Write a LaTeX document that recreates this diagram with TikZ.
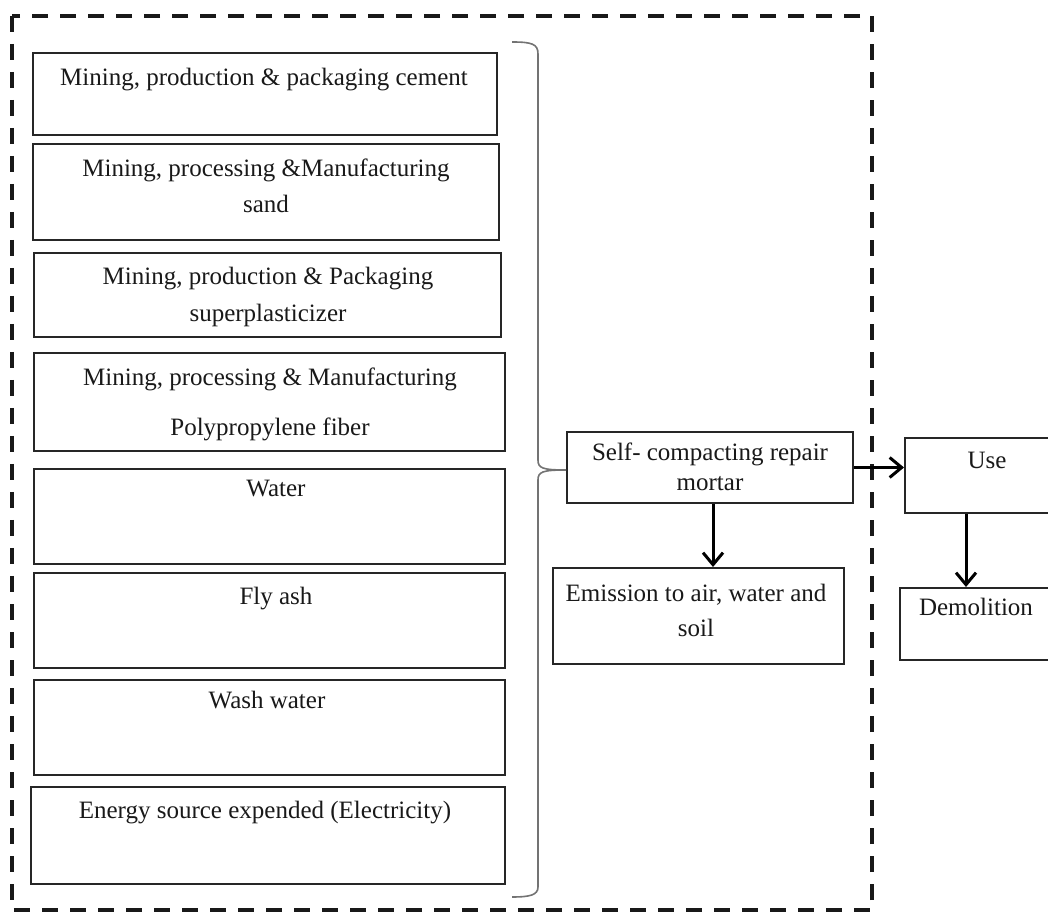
\documentclass[tikz,border=0pt]{standalone}
\usepackage{fontspec}
\setmainfont{Liberation Serif}
\usetikzlibrary{arrows.meta,calc}
\begin{document}
\begin{tikzpicture}[x=0.5pt,y=-0.5pt,
  box/.style={draw=black!85,line width=1pt,inner sep=0pt,rectangle},
  txt/.style={inner sep=0pt,anchor=base,font=\fontsize{12.5}{15}\selectfont,text=black!90},
  frame/.style={draw=black!90,line width=1.7pt,dash pattern=on 8pt off 6pt},
  brace/.style={draw=black!55,line width=0.8pt},
  flow/.style={draw=black,line width=1.5pt,-{Straight Barb[length=6pt,width=10pt,line width=1.5pt]}}]
\useasboundingbox (0,0) rectangle (1048,913);
\fill[white] (0,0) rectangle (1048,913);
% frame
\draw[frame] (12,16) rectangle (872,910);
% input boxes
\node[box,minimum width=232pt,minimum height=41pt] (b1) at (265,94) {};
\node[txt] (t1) at (264,86) {Mining, production \& packaging cement};
\node[box,minimum width=233pt,minimum height=48pt] (b2) at (266,192) {};
\node[txt] (t2a) at (266,177) {Mining, processing \&Manufacturing};
\node[txt] (t2b) at (266,213) {sand};
\node[box,minimum width=233.5pt,minimum height=42pt] (b3) at (267.5,295) {};
\node[txt] (t3a) at (268,285) {Mining, production \& Packaging};
\node[txt] (t3b) at (268,322) {superplasticizer};
\node[box,minimum width=235.5pt,minimum height=49pt] (b4) at (269.5,402) {};
\node[txt] (t4a) at (270,386) {Mining, processing \& Manufacturing};
\node[txt] (t4b) at (270,436) {Polypropylene fiber};
\node[box,minimum width=235.5pt,minimum height=47.5pt] (b5) at (269.5,516.5) {};
\node[txt] (t5) at (276,497) {Water};
\node[box,minimum width=235.5pt,minimum height=47.5pt] (b6) at (269.5,620.5) {};
\node[txt] (t6) at (276,604) {Fly ash};
\node[box,minimum width=235.5pt,minimum height=47.5pt] (b7) at (269.5,727.5) {};
\node[txt] (t7) at (267,708) {Wash water};
\node[box,minimum width=237pt,minimum height=48.5pt] (b8) at (268,835.5) {};
\node[txt] (t8) at (265,818) {Energy source expended (Electricity)};
% central boxes
\node[box,minimum width=143pt,minimum height=35.5pt] (scm) at (710,467.5) {};
\node[txt] (ts1) at (710,461) {Self- compacting repair};
\node[txt] (ts2) at (710,491) {mortar};
\node[box,minimum width=145.5pt,minimum height=48pt] (emis) at (698.5,616) {};
\node[txt] (te1) at (696,602) {Emission to air, water and};
\node[txt] (te2) at (696,636) {soil};
\node[box,minimum width=80pt,minimum height=37.5pt] (use) at (985,475.5) {};
\node[txt] (tu) at (987,469) {Use};
\node[box,minimum width=82pt,minimum height=36pt] (demo) at (982,624) {};
\node[txt] (td) at (976,615) {Demolition};
% brace
\coordinate (bt) at (512,42);
\coordinate (bb) at (512,897);
\coordinate (btip) at (scm.west |- 0,470);
\draw[brace] (bt) .. controls (532,42) and (538,44) .. (538,54)
  -- (538,460) .. controls (538,468) and (542,470) .. (btip)
  (btip) .. controls (542,470) and (538,472) .. (538,480)
  -- (538,887) .. controls (538,895) and (530,897) .. (bb);
% arrows
\coordinate (a1s) at ($(scm.south)+(3,0)$);
\coordinate (a1e) at (a1s |- emis.north);
\coordinate (a2s) at ($(use.south west)+(62,0)$);
\coordinate (a2e) at (a2s |- demo.north);
\draw[flow] (scm.east) -- (scm.east -| use.west);
\draw[flow] (a1s) -- (a1e);
\draw[flow] (a2s) -- (a2e);
\end{tikzpicture}
\end{document}
